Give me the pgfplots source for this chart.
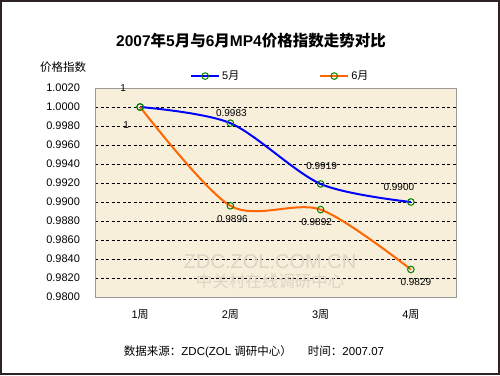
\documentclass[border=0pt]{standalone}
\usepackage{fontspec}
\setmainfont{Liberation Sans}
\newfontfamily\cjk{Noto Sans CJK SC}
\usepackage{pgfplots}
\pgfplotsset{compat=1.18}
\definecolor{bgbeige}{HTML}{F8EFDB}
\definecolor{frame}{HTML}{2E2222}
\definecolor{lblue}{HTML}{0000FF}
\definecolor{lorange}{HTML}{FF6600}
\definecolor{mgreen}{HTML}{008000}
\definecolor{mcyan}{HTML}{CCFFFF}
\definecolor{myellow}{HTML}{FFFFCC}
\definecolor{wmark}{HTML}{DCD4C6}
\pgfplotstableread{
x y
1 1.0000
2 0.9983
3 0.9919
4 0.9900
}\may
\pgfplotstableread{
x y
1 1.0000
2 0.9896
3 0.9892
4 0.9829
}\june
\begin{document}
\begin{tikzpicture}[x=1pt,y=1pt]
\useasboundingbox (0,0) rectangle (500,375);
\fill[white] (0,0) rectangle (500,375);
\draw[line width=2pt, color=frame] (1,1) rectangle (499,374);
\node[font=\fontsize{15.5}{18}\selectfont\bfseries] at (251,334) {2007{\cjk\bfseries 年}5{\cjk\bfseries 月与}6{\cjk\bfseries 月}MP4{\cjk\bfseries 价格指数走势对比}};
\node[font=\fontsize{11.5}{13}\selectfont\cjk] at (63,308) {价格指数};
\node[font=\fontsize{11.5}{13}\selectfont] at (254,23) {{\cjk 数据来源：}ZDC(ZOL {\cjk 调研中心）}\hspace{16pt}{\cjk 时间：}2007.07};
\begin{axis}[
  at={(95pt,78pt)}, anchor=south west,
  scale only axis, width=361pt, height=209pt,
  xmin=0.5, xmax=4.5, ymin=0.98, ymax=1.002,
  axis background/.style={fill=bgbeige},
  axis line style={draw=gray!80},
  xtick={1,2,3,4},
  xticklabels={1{\cjk 周},2{\cjk 周},3{\cjk 周},4{\cjk 周}},
  ytick={0.98,0.982,0.984,0.986,0.988,0.99,0.992,0.994,0.996,0.998,1.0,1.002},
  tick align=inside,
  major tick length=3pt,
  x tick style={draw=none},
  y tick style={draw=black},
  ymajorgrids,
  grid style={black, dash pattern=on 3pt off 2.5pt, line width=0.6pt},
  yticklabel style={font=\fontsize{11}{13}\selectfont, xshift=-11.5pt, /pgf/number format/.cd, fixed, fixed zerofill, precision=4, assume math mode=true},
  xticklabel style={font=\fontsize{11}{13}\selectfont, yshift=-9pt},
  scaled y ticks=false,
  clip=false,
  legend columns=2,
  legend style={draw=none, fill=none, at={(0.263,1.057)}, anchor=west, inner xsep=0pt, inner ysep=0pt, font=\fontsize{11}{13}\selectfont, /tikz/every even column/.append style={column sep=78pt}},
  legend cell align=left,
  legend image code/.code={\draw[#1, mark repeat=2, mark phase=2] plot coordinates {(0pt,0pt) (14pt,0pt) (28pt,0pt)};},
]
\node[font=\fontsize{20}{22}\selectfont, text=wmark] at (axis cs:2.44,0.98375) {ZDC.ZOL.COM.CN};
\node[font=\fontsize{16.5}{18}\selectfont\cjk, text=wmark] at (axis cs:2.44,0.98170) {中关村在线调研中心};
\addplot[lblue, line width=2pt, smooth, mark=o, mark size=3.3pt, mark options={draw=mgreen, fill=mcyan, line width=1pt, solid}] table[x=x,y=y] {\may};
\addlegendentry{5{\cjk 月}}
\addplot[lorange, line width=2pt, smooth, mark=o, mark size=3.3pt, mark options={draw=mgreen, fill=myellow, line width=1pt, solid}] table[x=x,y=y] {\june};
\addlegendentry{6{\cjk 月}}
\begin{scope}[font=\fontsize{10}{12}\selectfont]
\node at (axis cs:1,1.0000) [xshift=-17pt, yshift=19pt] {1};
\node at (axis cs:1,1.0000) [xshift=-14pt, yshift=-18pt] {1};
\node at (axis cs:2,0.9983) [xshift=1pt, yshift=10pt] {0.9983};
\node at (axis cs:3,0.9919) [xshift=1pt, yshift=18pt] {0.9919};
\node at (axis cs:4,0.9900) [xshift=-12pt, yshift=15pt] {0.9900};
\node at (axis cs:2,0.9896) [xshift=2pt, yshift=-13pt] {0.9896};
\node at (axis cs:3,0.9892) [xshift=-4pt, yshift=-12pt] {0.9892};
\node at (axis cs:4,0.9829) [xshift=5pt, yshift=-13pt] {0.9829};
\end{scope}
\end{axis}
\end{tikzpicture}
\end{document}
